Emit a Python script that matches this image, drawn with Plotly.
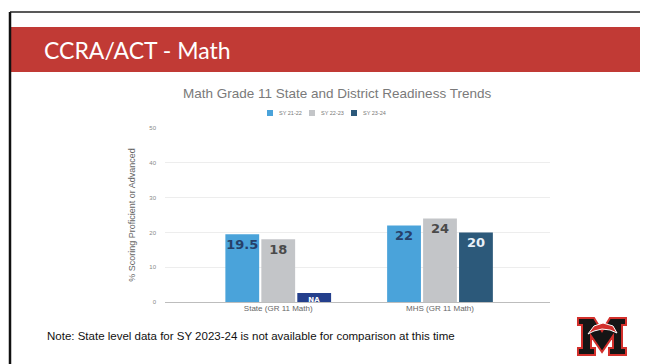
import plotly.graph_objects as go

categories = ["State (GR 11 Math)", "MHS (GR 11 Math)"]
series_names = ["SY 21-22", "SY 22-23", "SY 23-24"]
sy2122 = [19.5, 22]
sy2223 = [18, 24]
sy2324 = [2.6, 20]          # State bar is a placeholder for "NA"
sy2324_labels = ["NA", "20"]
y_ticks = [0, 10, 20, 30, 40, 50]
colors = ["#4aa3da", "#c3c5c8", "#2c597a"]

# page has an 8px body margin; work in window pixels and convert
OX, OY = 8, 8
W, H = 640, 356
L, R, T, B = 165, 550, 128, 302   # plot area in window pixels


def px(x):
    return (x - L) / (R - L)


def py(y):
    return (B - y) / (B - T)


common = dict(textposition="inside", insidetextanchor="end", textangle=0, constraintext="none")
fig = go.Figure()
fig.add_trace(go.Bar(
    name=series_names[0], x=categories, y=sy2122,
    marker=dict(color=colors[0], line=dict(width=0)),
    text=[str(v) for v in sy2122],
    textfont=dict(family="DejaVu Sans", size=13, weight="bold", color="#26406a"), **common,
))
fig.add_trace(go.Bar(
    name=series_names[1], x=categories, y=sy2223,
    marker=dict(color=colors[1], line=dict(width=0)),
    text=[str(v) for v in sy2223],
    textfont=dict(family="DejaVu Sans", size=13, weight="bold", color="#4a4a4a"), **common,
))
fig.add_trace(go.Bar(
    name=series_names[2], x=categories, y=sy2324,
    marker=dict(color=["#243f8c", colors[2]], line=dict(width=0)),
    text=sy2324_labels,
    textfont=dict(family="DejaVu Sans", size=[7, 13], weight="bold", color=["#ffffff", "#e8f0f8"]),
    **common,
))

fig.update_layout(
    width=W, height=H,
    margin=dict(l=L - OX, r=(W + OX) - R, t=T - OY, b=(H + OY) - B, pad=0),
    paper_bgcolor="white", plot_bgcolor="white",
    barmode="group", bargap=0.333, bargroupgap=0.06,
    showlegend=False,
    font=dict(family="Liberation Sans", color="#666666"),
)
fig.update_xaxes(range=[-0.7, 1.68], showgrid=False, showline=False, zeroline=False,
                 tickfont=dict(family="Liberation Sans", size=8, color="#666666"),
                 ticks="", fixedrange=True)
fig.update_yaxes(range=[0, 50], tickvals=y_ticks, showgrid=True, gridcolor="#ededed",
                 gridwidth=1, zeroline=True, zerolinecolor="#bdbdbd", zerolinewidth=1,
                 tickfont=dict(family="Liberation Sans", size=6, color="#888888"),
                 ticks="", ticklabelstandoff=8,
                 title=dict(text="% Scoring Proficient or Advanced",
                            font=dict(family="Liberation Sans", size=9, color="#666666"),
                            standoff=12))

shapes = []
# slide borders
shapes.append(dict(type="line", xref="paper", yref="paper", x0=px(10), x1=px(10), y0=py(12), y1=py(364),
                   line=dict(color="#111111", width=2.5), layer="above"))
shapes.append(dict(type="line", xref="paper", yref="paper", x0=px(10), x1=px(648), y0=py(12), y1=py(12),
                   line=dict(color="#222222", width=1.5), layer="above"))
# red banner
shapes.append(dict(type="rect", xref="paper", yref="paper", x0=px(11), x1=px(648), y0=py(27), y1=py(72),
                   fillcolor="#c13a35", line=dict(width=0), layer="below"))

# manual compact legend
leg_x = [267, 309, 351]
annotations = []
for i, name in enumerate(series_names):
    shapes.append(dict(type="rect", xref="paper", yref="paper", x0=px(leg_x[i]), x1=px(leg_x[i] + 6),
                       y0=py(110), y1=py(116), fillcolor=colors[i], line=dict(width=0)))
    annotations.append(dict(text=name, x=px(leg_x[i] + 10), y=py(113), xref="paper", yref="paper",
                            xanchor="left", yanchor="middle", showarrow=False,
                            font=dict(family="Liberation Sans", size=5.5, color="#777777")))

# logo "M"
m_pts = [(578, 318), (594, 318), (602, 331), (610, 318), (626, 318), (626, 325), (622, 325), (622, 348),
         (626, 348), (626, 355), (609, 355), (609, 348), (613, 348), (613, 336), (602, 352), (591, 336),
         (591, 348), (595, 348), (595, 355), (578, 355), (578, 348), (582, 348), (582, 325), (578, 325)]
path = "M " + " L ".join(f"{px(x):.4f},{py(y):.4f}" for x, y in m_pts) + " Z"
shapes.append(dict(type="path", xref="paper", yref="paper", path=path, fillcolor="#151515",
                   line=dict(color="#d3302c", width=2), layer="above"))
crest = [(588, 334), (594, 326), (603, 323), (613, 326), (617, 333), (610, 330), (602, 329), (594, 331)]
cpath = "M " + " L ".join(f"{px(x):.4f},{py(y):.4f}" for x, y in crest) + " Z"
shapes.append(dict(type="path", xref="paper", yref="paper", path=cpath, fillcolor="#d3302c",
                   line=dict(color="#ffffff", width=1), layer="above"))
fig.update_layout(shapes=shapes)

annotations += [
    dict(text="CCRA/ACT - Math", x=px(42), y=py(50), xref="paper", yref="paper",
         xanchor="left", yanchor="middle", showarrow=False,
         font=dict(family="Lato", size=23, color="white")),
    dict(text="Math Grade 11 State and District Readiness Trends", x=px(337), y=py(93),
         xref="paper", yref="paper", xanchor="center", yanchor="middle", showarrow=False,
         font=dict(family="Liberation Sans", size=13.5, color="#7a7a7a")),
    dict(text="Note: State level data for SY 2023-24 is not available for comparison at this time",
         x=px(45), y=py(336), xref="paper", yref="paper", xanchor="left", yanchor="middle",
         showarrow=False, font=dict(family="Liberation Sans", size=11.5, color="#111111")),
]
fig.update_layout(annotations=annotations)

fig.write_html("out.html")
